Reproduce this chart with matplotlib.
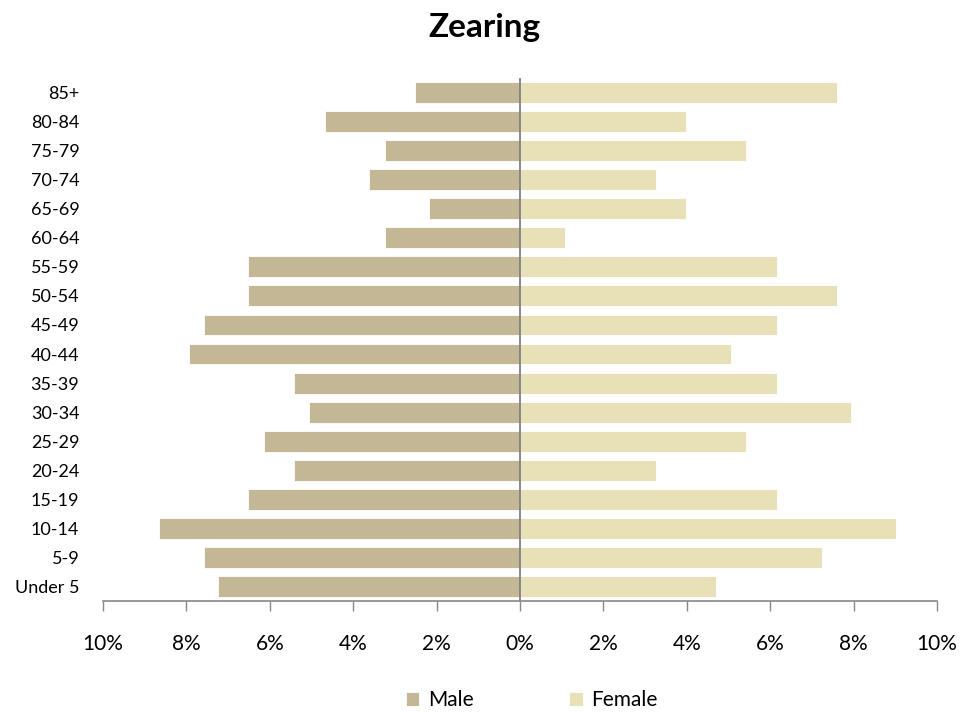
import matplotlib.pyplot as plt
from matplotlib.ticker import FuncFormatter

plt.rcParams['font.family'] = ['Lato', 'DejaVu Sans']

ages = ["Under 5", "5-9", "10-14", "15-19", "20-24", "25-29", "30-34", "35-39",
        "40-44", "45-49", "50-54", "55-59", "60-64", "65-69", "70-74", "75-79",
        "80-84", "85+"]
male = [7.24, 7.58, 8.66, 6.52, 5.42, 6.14, 5.06, 5.42,
        7.94, 7.58, 6.52, 6.52, 3.24, 2.18, 3.62, 3.24, 4.68, 2.52]
female = [4.70, 7.24, 9.02, 6.16, 3.26, 5.42, 7.94, 6.16,
          5.06, 6.16, 7.60, 6.16, 1.08, 3.98, 3.26, 5.42, 3.98, 7.60]

male_color = "#C4B795"
female_color = "#E8E1B8"

fig = plt.figure(figsize=(9.79, 7.13), dpi=100)
ax = fig.add_axes([0.1052, 0.1571, 0.8518, 0.7335])

y = list(range(len(ages)))
ax.barh(y, [-v for v in male], height=0.72, color=male_color,
        edgecolor="white", linewidth=0.6, label="Male")
ax.barh(y, female, height=0.72, color=female_color,
        edgecolor="white", linewidth=0.6, label="Female")

ax.set_xlim(-10, 10)
ax.set_ylim(-0.5, len(ages) - 0.5)
ax.set_xticks(range(-10, 11, 2))
ax.xaxis.set_major_formatter(FuncFormatter(lambda v, p: f"{abs(int(v))}%"))
ax.set_yticks(y)
ax.set_yticklabels(ages)
ax.tick_params(axis="y", length=0, labelsize=13, pad=17)
ax.tick_params(axis="x", length=7, width=1, color="#888888", labelsize=15, pad=17,
               direction="out")

for s in ["top", "right", "left"]:
    ax.spines[s].set_visible(False)
ax.spines["bottom"].set_color("#888888")
ax.spines["bottom"].set_linewidth(1.2)
ax.axvline(0, color="#808080", linewidth=1.3)

fig.text(0.495, 0.948, "Zearing", fontsize=24, fontweight="bold",
         ha="center", va="baseline")

fig.legend(loc="center", bbox_to_anchor=(0.543, 0.018), ncol=2, frameon=False,
           fontsize=15, handlelength=0.65, handleheight=0.65, columnspacing=4.6,
           handletextpad=0.4)

fig.savefig("out.png", dpi=100)
